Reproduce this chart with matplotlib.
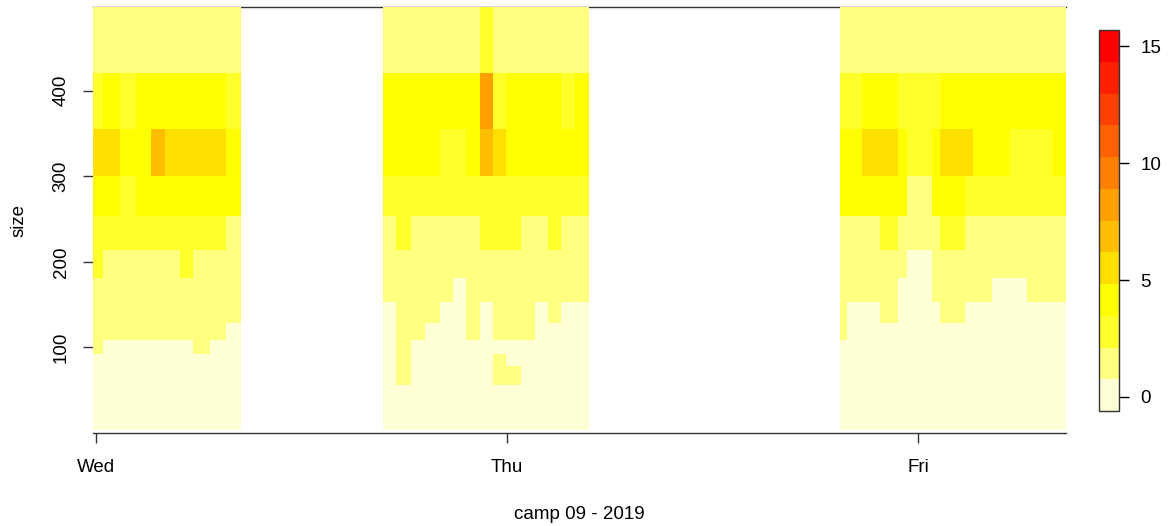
import numpy as np
import matplotlib
matplotlib.use("Agg")
import matplotlib.pyplot as plt
from matplotlib.colors import ListedColormap, Normalize

plt.rcParams['font.family'] = ['Liberation Sans', 'DejaVu Sans']

# heat.colors(12), reversed (light -> red)
heat_colors = ['#FFFFD5', '#FFFF80', '#FFFF2A', '#FFFF00', '#FFDF00', '#FFBF00',
               '#FF9F00', '#FF8000', '#FF6000', '#FF4000', '#FF2000', '#FF0000']
z_min, z_max = -0.6, 15.7

# size bins (top to bottom)
size_edges = [497, 420, 355, 300, 253, 214, 181, 153, 129, 109, 92, 78, 66, 56, 3.4]

# time bins, hours since Wed 00:00
wed_hours = [-0.16, 0.41, 1.40, 2.34, 3.21, 4.03, 4.91, 5.66, 6.66, 7.59, 8.47]
thu_hours = [16.76, 17.52, 18.39, 19.21, 20.09, 20.85, 21.61, 22.42, 23.18, 23.94,
             24.82, 25.64, 26.39, 27.15, 27.97, 28.79]
fri_hours = [43.45, 43.85, 44.73, 45.78, 46.83, 47.36, 48.82, 49.28, 50.74, 51.21,
             52.32, 53.37, 54.37, 55.82, 56.64]

wed_counts = [
  [1.5, 1.5, 1.5, 1.5, 1.5, 1.5, 1.5, 1.5, 1.5, 1.5],
  [3, 4, 3, 4, 4, 4, 4, 4, 4, 3],
  [5.5, 5.5, 4, 4, 7, 5.5, 5.5, 5.5, 5.5, 4],
  [4, 4, 3, 4, 4, 4, 4, 4, 4, 4],
  [3, 3, 3, 3, 3, 3, 3, 3, 3, 1.5],
  [3, 1.5, 1.5, 1.5, 1.5, 1.5, 3, 1.5, 1.5, 1.5],
  [1.5, 1.5, 1.5, 1.5, 1.5, 1.5, 1.5, 1.5, 1.5, 1.5],
  [1.5, 1.5, 1.5, 1.5, 1.5, 1.5, 1.5, 1.5, 1.5, 1.5],
  [1.5, 1.5, 1.5, 1.5, 1.5, 1.5, 1.5, 1.5, 1.5, 0],
  [1.5, 0, 0, 0, 0, 0, 0, 1.5, 0, 0],
  [0, 0, 0, 0, 0, 0, 0, 0, 0, 0],
  [0, 0, 0, 0, 0, 0, 0, 0, 0, 0],
  [0, 0, 0, 0, 0, 0, 0, 0, 0, 0],
  [0, 0, 0, 0, 0, 0, 0, 0, 0, 0],
]

thu_counts = [
  [1.5, 1.5, 1.5, 1.5, 1.5, 1.5, 1.5, 3, 1.5, 1.5, 1.5, 1.5, 1.5, 1.5, 1.5],
  [4, 4, 4, 4, 4, 4, 4, 8, 3, 4, 4, 4, 4, 3, 4],
  [4, 4, 4, 4, 3, 3, 4, 7, 5.5, 4, 4, 4, 4, 4, 4],
  [3, 3, 3, 3, 3, 3, 3, 3, 3, 3, 3, 3, 3, 3, 3],
  [1.5, 3, 1.5, 1.5, 1.5, 1.5, 1.5, 3, 3, 3, 1.5, 1.5, 3, 1.5, 1.5],
  [1.5, 1.5, 1.5, 1.5, 1.5, 1.5, 1.5, 1.5, 1.5, 1.5, 1.5, 1.5, 1.5, 1.5, 1.5],
  [1.5, 1.5, 1.5, 1.5, 1.5, 0, 1.5, 1.5, 1.5, 1.5, 1.5, 1.5, 1.5, 1.5, 1.5],
  [0, 1.5, 1.5, 1.5, 0, 0, 1.5, 0, 1.5, 1.5, 1.5, 0, 1.5, 0, 0],
  [0, 1.5, 1.5, 0, 0, 0, 1.5, 0, 1.5, 1.5, 1.5, 0, 0, 0, 0],
  [0, 1.5, 0, 0, 0, 0, 0, 0, 0, 0, 0, 0, 0, 0, 0],
  [0, 1.5, 0, 0, 0, 0, 0, 0, 1.5, 0, 0, 0, 0, 0, 0],
  [0, 1.5, 0, 0, 0, 0, 0, 0, 1.5, 1.5, 0, 0, 0, 0, 0],
  [0, 1.5, 0, 0, 0, 0, 0, 0, 1.5, 1.5, 0, 0, 0, 0, 0],
  [0, 0, 0, 0, 0, 0, 0, 0, 0, 0, 0, 0, 0, 0, 0],
]

fri_counts = [
  [1.5, 1.5, 1.5, 1.5, 1.5, 1.5, 1.5, 1.5, 1.5, 1.5, 1.5, 1.5, 1.5, 1.5],
  [3, 3, 4, 4, 3, 3, 3, 4, 4, 4, 4, 4, 4, 4],
  [4, 4, 5.5, 5.5, 4, 3, 4, 5.5, 5.5, 4, 4, 3, 3, 4],
  [4, 4, 4, 4, 4, 1.5, 4, 4, 3, 3, 3, 3, 3, 3],
  [1.5, 1.5, 1.5, 3, 1.5, 1.5, 1.5, 3, 1.5, 1.5, 1.5, 1.5, 1.5, 1.5],
  [1.5, 1.5, 1.5, 1.5, 1.5, 0, 1.5, 1.5, 1.5, 1.5, 1.5, 1.5, 1.5, 1.5],
  [1.5, 1.5, 1.5, 1.5, 0, 0, 1.5, 1.5, 1.5, 1.5, 0, 0, 1.5, 1.5],
  [1.5, 0, 0, 1.5, 0, 0, 0, 1.5, 0, 0, 0, 0, 0, 0],
  [1.5, 0, 0, 0, 0, 0, 0, 0, 0, 0, 0, 0, 0, 0],
  [0, 0, 0, 0, 0, 0, 0, 0, 0, 0, 0, 0, 0, 0],
  [0, 0, 0, 0, 0, 0, 0, 0, 0, 0, 0, 0, 0, 0],
  [0, 0, 0, 0, 0, 0, 0, 0, 0, 0, 0, 0, 0, 0],
  [0, 0, 0, 0, 0, 0, 0, 0, 0, 0, 0, 0, 0, 0],
  [0, 0, 0, 0, 0, 0, 0, 0, 0, 0, 0, 0, 0, 0],
]

day_ticks = [0, 24, 48]
day_labels = ['Wed', 'Thu', 'Fri']
size_ticks = [100, 200, 300, 400]
bar_ticks = [0, 5, 10, 15]

cmap = ListedColormap(heat_colors)
norm = Normalize(vmin = z_min, vmax = z_max)

fig = plt.figure(figsize = (11.74, 5.26), dpi = 100)
fig.set_facecolor('white')
ax = fig.add_axes([0.0795, 0.1768, 0.8285, 0.809])

for hours, counts in [(wed_hours, wed_counts), (thu_hours, thu_counts), (fri_hours, fri_counts)]:
  ax.pcolormesh(hours, size_edges, np.array(counts), cmap = cmap, norm = norm,
                shading = 'flat', edgecolors = 'none', antialiased = False, zorder = 3)

ax.set_xlim(wed_hours[0], fri_hours[-1])
ax.set_ylim(0, size_edges[0])

for side in ['left', 'right']:
  ax.spines[side].set_visible(False)
for side in ['top', 'bottom']:
  ax.spines[side].set_color('#333333')
  ax.spines[side].set_linewidth(1.0)
  ax.spines[side].set_zorder(1)

ax.set_xticks(day_ticks)
ax.set_xticklabels(day_labels, fontsize = 13.5)
ax.set_yticks(size_ticks)
ax.set_yticklabels([str(t) for t in size_ticks], fontsize = 13.5, rotation = 90, va = 'center')
ax.tick_params(axis = 'x', length = 7, width = 1, color = '#333333', pad = 12)
ax.tick_params(axis = 'y', length = 7, width = 1, color = '#333333', pad = 10)

ax.set_xlabel('camp 09 - 2019', fontsize = 13.5, labelpad = 21)
ax.set_ylabel('size', fontsize = 13.5, labelpad = 18)

# legend strip
cax = fig.add_axes([0.9365, 0.2186, 0.017, 0.7243])
cb = fig.colorbar(plt.cm.ScalarMappable(norm = norm, cmap = cmap), cax = cax)
cb.set_ticks(bar_ticks)
cb.ax.tick_params(labelsize = 13.5, length = 7, width = 1, pad = 8)
cb.outline.set_linewidth(1.0)
cb.outline.set_edgecolor('#333333')

plt.savefig('out.png', dpi = 100)
